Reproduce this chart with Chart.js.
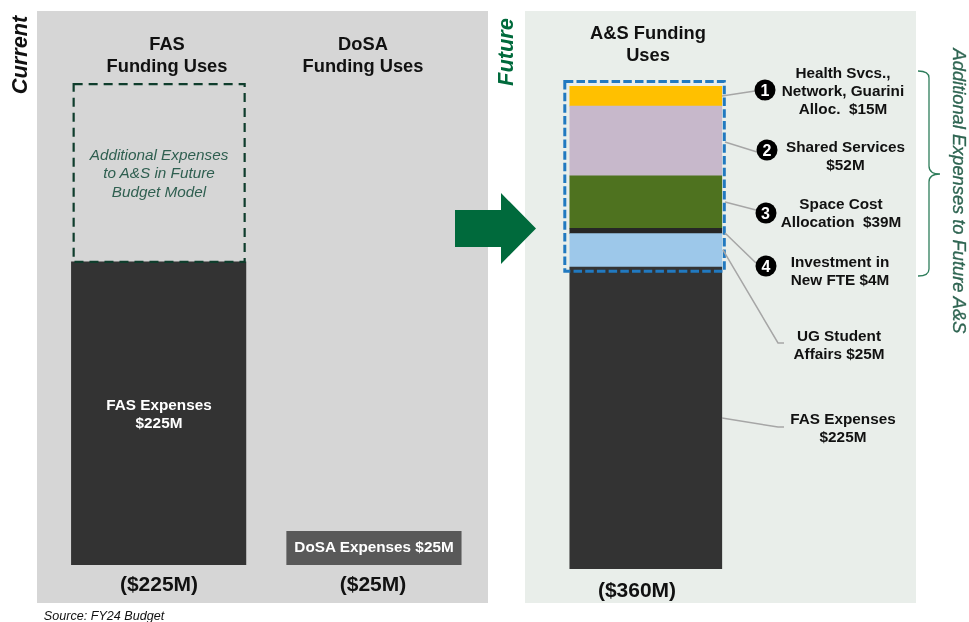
<!DOCTYPE html>
<html>
<head>
<meta charset="utf-8">
<title>Funding Uses</title>
<script src="https://cdn.jsdelivr.net/npm/chart.js@4"></script>
<style>
  html, body { margin: 0; padding: 0; background: #fff; }
  body { position: relative; width: 969px; height: 622px; overflow: hidden; font-family: "Liberation Sans", Arial, sans-serif; }
  .panel { position: absolute; top: 11px; height: 592px; }
  canvas { position: absolute; top: 11px; }
  svg { position: absolute; left: 0; top: 0; }
  .t { position: absolute; transform: translate(-50%, -50%); text-align: center; white-space: nowrap; color: #111; font-weight: bold; }
  .title { font-size: 18.3px; line-height: 21.6px; }
  .total { font-size: 21px; }
  .lab { font-size: 15.3px; line-height: 18.4px; }
  .white { color: #fff; }
  .side { font-size: 21.8px; font-style: italic; }
  .num { width: 21px; height: 21px; line-height: 21px; border-radius: 50%; background: #000; color: #fff; font-size: 16px; }
</style>
</head>
<body>
<div class="panel" style="left:37px;width:451px;background:#d6d6d6"></div>
<div class="panel" style="left:525px;width:391px;background:#e9eeea"></div>

<canvas id="currentChart" width="451" height="592" style="left:37px"></canvas>
<canvas id="futureChart" width="391" height="592" style="left:525px"></canvas>

<svg width="969" height="622">
  <polygon points="455,210 501,210 501,193 536,228.5 501,264 501,247 455,247" fill="#006a3c"/>
  <g fill="none" stroke="#a6a6a6" stroke-width="1.5">
    <polyline points="722,96 755,91"/>
    <polyline points="725,142 757,152"/>
    <polyline points="725,202 756,210"/>
    <polyline points="725,233 756,263"/>
    <polyline points="723,250 778,343 784,343"/>
    <polyline points="722,418 778,427 784,427"/>
  </g>
  <path d="M918,71 Q929,71 929,78 L929,166 Q929,174 940,174 Q929,174 929,182 L929,269 Q929,276 918,276" fill="none" stroke="#2e7d5b" stroke-width="1.3"/>
</svg>

<div class="t side" style="left:20px;top:55px;transform:translate(-50%,-50%) rotate(-90deg)">Current</div>
<div class="t side" style="left:506px;top:52px;color:#006a3c;transform:translate(-50%,-50%) rotate(-90deg)">Future</div>
<div class="t" style="left:959px;top:191px;color:#2f6552;font-size:18.3px;font-style:italic;font-weight:normal;-webkit-text-stroke:0.3px #2f6552;transform:translate(-50%,-50%) rotate(90deg)">Additional Expenses to Future A&amp;S</div>

<div class="t title" style="left:167px;top:55px">FAS<br>Funding Uses</div>
<div class="t title" style="left:363px;top:55px">DoSA<br>Funding Uses</div>
<div class="t title" style="left:648px;top:44px">A&amp;S Funding<br>Uses</div>

<div class="t" style="left:159px;top:173.5px;font-size:15.3px;line-height:18.5px;font-style:italic;font-weight:normal;color:#2f5f50">Additional Expenses<br>to A&amp;S in Future<br>Budget Model</div>
<div class="t lab white" style="left:159px;top:414px">FAS Expenses<br>$225M</div>
<div class="t lab white" style="left:374px;top:547px">DoSA Expenses $25M</div>

<div class="t total" style="left:159px;top:584px">($225M)</div>
<div class="t total" style="left:373px;top:584px">($25M)</div>
<div class="t total" style="left:637px;top:590px">($360M)</div>

<div class="t num" style="left:765px;top:90px">1</div>
<div class="t num" style="left:767px;top:150px">2</div>
<div class="t num" style="left:765.5px;top:213px">3</div>
<div class="t num" style="left:766px;top:266px">4</div>

<div class="t lab" style="left:843px;top:91.5px">Health Svcs.,<br>Network, Guarini<br>Alloc.&nbsp; $15M</div>
<div class="t lab" style="left:845.5px;top:155.5px">Shared Services<br>$52M</div>
<div class="t lab" style="left:841px;top:213px">Space Cost<br>Allocation&nbsp; $39M</div>
<div class="t lab" style="left:840px;top:270.5px">Investment in<br>New FTE $4M</div>
<div class="t lab" style="left:839px;top:344.5px">UG Student<br>Affairs $25M</div>
<div class="t lab" style="left:843px;top:428px">FAS Expenses<br>$225M</div>

<div class="t" style="left:104px;top:616px;font-size:12.6px;font-style:italic;font-weight:normal">Source: FY24 Budget</div>

<script>
var currentCategories = ['FAS', 'DoSA'];
var currentExpenses = [225, 25];
var additionalExpenses = [132, 0];

var futureCategories = ['A&S'];
var fasExpenses = [225];
var ugStudentAffairs = [25];
var newFte = [4];
var spaceCost = [39];
var sharedServices = [52];
var healthSvcs = [15];

var axisMax = 360;

// stroke a dashed box round a value range of the y scale
function dashedBox(chart, x0, x1, vBottom, vTop, bottomPad, topPad, color, width, dash) {
  var ctx = chart.ctx;
  var y0 = chart.scales.y.getPixelForValue(vTop) - topPad;
  var y1 = chart.scales.y.getPixelForValue(vBottom) + bottomPad;
  ctx.save();
  ctx.strokeStyle = color;
  ctx.lineWidth = width;
  ctx.setLineDash(dash);
  ctx.strokeRect(x0, y0, x1 - x0, y1 - y0);
  ctx.restore();
}

var scalesOpt = {
  x: { stacked: true, display: false },
  y: { stacked: true, display: false, min: 0, max: axisMax }
};

new Chart(document.getElementById('currentChart'), {
  type: 'bar',
  data: {
    labels: currentCategories,
    datasets: [
      { data: currentExpenses, backgroundColor: ['#333333', '#595959'], barThickness: 174.5 },
      { data: additionalExpenses, backgroundColor: 'transparent', barThickness: 174.5 }
    ]
  },
  options: {
    responsive: false,
    animation: false,
    layout: { padding: { left: 14, right: 6.4, top: 69, bottom: 38 } },
    plugins: { legend: { display: false }, tooltip: { enabled: false } },
    scales: scalesOpt
  },
  plugins: [{
    id: 'ghost',
    afterDatasetsDraw: function(chart) {
      var bar = chart.getDatasetMeta(1).data[0];
      dashedBox(chart, bar.x - 85, bar.x + 86, currentExpenses[0], currentExpenses[0] + additionalExpenses[0], 0, 0, '#0f3d2c', 2.2, [9, 6]);
    }
  }]
});

var futureParts = [
  { data: fasExpenses, color: '#333333' },
  { data: ugStudentAffairs, color: '#9dc8ea' },
  { data: newFte, color: '#262626' },
  { data: spaceCost, color: '#4e721f' },
  { data: sharedServices, color: '#c7b8cb' },
  { data: healthSvcs, color: '#ffc000' }
];

new Chart(document.getElementById('futureChart'), {
  type: 'bar',
  data: {
    labels: futureCategories,
    datasets: futureParts.map(function(p) {
      return { data: p.data, backgroundColor: p.color, barThickness: 152 };
    })
  },
  options: {
    responsive: false,
    animation: false,
    layout: { padding: { left: 0, right: 149.4, top: 75, bottom: 34 } },
    plugins: { legend: { display: false }, tooltip: { enabled: false } },
    scales: scalesOpt
  },
  plugins: [{
    id: 'additions',
    afterDatasetsDraw: function(chart) {
      var bar = chart.getDatasetMeta(0).data[0];
      dashedBox(chart, bar.x - 81, bar.x + 78.5, fasExpenses[0], axisMax, 4, 4.5, '#2179c0', 3, [8.5, 3.2]);
    }
  }]
});
</script>
</body>
</html>
